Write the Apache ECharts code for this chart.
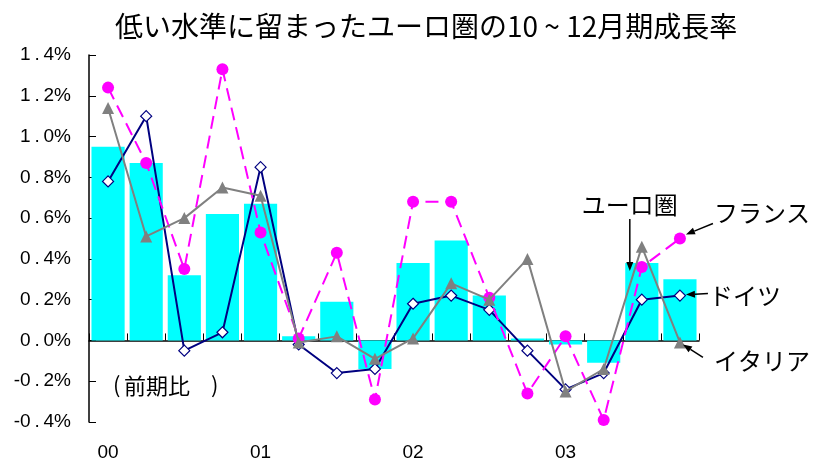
<!DOCTYPE html>
<html>
<head>
<meta charset="utf-8">
<script src="https://cdn.jsdelivr.net/npm/echarts@6/dist/echarts.min.js"></script>
<style>
  html, body { margin: 0; padding: 0; background: #fff; }
  #chart { width: 815px; height: 464px; }
</style>
</head>
<body>
<div id="chart"></div>
<script>
// Quarterly real GDP growth, quarter-on-quarter (%), 2000 Q1 – 2003 Q4
const quarters = [
  '00Q1', '00Q2', '00Q3', '00Q4',
  '01Q1', '01Q2', '01Q3', '01Q4',
  '02Q1', '02Q2', '02Q3', '02Q4',
  '03Q1', '03Q2', '03Q3', '03Q4'
];
const yearLabels = ['00', '01', '02', '03'];

const euroArea = [0.95, 0.87, 0.32, 0.62, 0.67, 0.02, 0.19, -0.14, 0.38, 0.49, 0.22, 0.01, -0.02, -0.11, 0.38, 0.30];
const germany  = [0.78, 1.10, -0.05, 0.04, 0.85, -0.02, -0.16, -0.14, 0.18, 0.22, 0.15, -0.05, -0.24, -0.16, 0.20, 0.22];
const france   = [1.24, 0.87, 0.35, 1.33, 0.53, 0.01, 0.43, -0.29, 0.68, 0.68, 0.21, -0.26, 0.02, -0.39, 0.36, 0.50];
const italy    = [1.14, 0.51, 0.60, 0.75, 0.71, -0.01, 0.02, -0.09, 0.01, 0.28, 0.20, 0.40, -0.25, -0.14, 0.46, -0.01];

const LATIN = '"Liberation Sans", Arial, sans-serif';
const JP = '"Noto Sans CJK JP", "Liberation Sans", sans-serif';

const chart = echarts.init(document.getElementById('chart'), null, { renderer: 'canvas' });

const option = {
  animation: false,
  backgroundColor: '#fff',
  title: {
    text: '低い水準に留まったユーロ圏の10 ~ 12月期成長率',
    left: 110,
    top: 7,
    textStyle: { fontFamily: JP, fontSize: 28, fontWeight: 'normal', color: '#000' }
  },
  grid: { left: 89, right: 116, top: 55, bottom: 42, containLabel: false },
  xAxis: [
    {
      type: 'category',
      data: quarters,
      boundaryGap: true,
      axisLine: { onZero: true, lineStyle: { color: '#000', width: 1.5 } },
      axisTick: { show: true, inside: true, length: 7, interval: 0, lineStyle: { color: '#000', width: 1 } },
      axisLabel: { show: false },
      splitLine: { show: false }
    },
    {
      type: 'category',
      data: quarters,
      position: 'bottom',
      axisLine: { show: false, onZero: false },
      axisTick: { show: false },
      axisLabel: {
        interval: 0,
        margin: 21,
        fontFamily: LATIN,
        fontSize: 19,
        color: '#000',
        formatter: (v, i) => (i % 4 === 0 ? yearLabels[i / 4] : '')
      },
      splitLine: { show: false }
    }
  ],
  yAxis: {
    type: 'value',
    min: -0.4,
    max: 1.4,
    interval: 0.2,
    axisLine: { show: true, lineStyle: { color: '#000', width: 1.5 } },
    axisTick: { show: true, inside: true, length: 7, lineStyle: { color: '#000', width: 1 } },
    axisLabel: {
      margin: 18,
      fontFamily: LATIN,
      fontSize: 19,
      color: '#000',
      formatter: v => v.toFixed(1).replace('.', '\u2009.\u2009') + '%'
    },
    splitLine: { show: false }
  },
  series: [
    {
      name: 'ユーロ圏',
      type: 'bar',
      data: euroArea,
      barCategoryGap: '13%',
      itemStyle: { color: '#00FFFF' },
      z: 1
    },
    {
      name: 'ドイツ',
      type: 'line',
      data: germany,
      symbol: 'diamond',
      symbolSize: 11,
      showAllSymbol: true,
      lineStyle: { color: '#000080', width: 2 },
      itemStyle: { color: '#fff', borderColor: '#000080', borderWidth: 1.2 },
      z: 3
    },
    {
      name: 'フランス',
      type: 'line',
      data: france,
      symbol: 'circle',
      symbolSize: 12,
      showAllSymbol: true,
      lineStyle: { color: '#FF00FF', width: 2, type: [13, 7] },
      itemStyle: { color: '#FF00FF' },
      z: 4
    },
    {
      name: 'イタリア',
      type: 'line',
      data: italy,
      symbol: 'triangle',
      symbolSize: 12,
      showAllSymbol: true,
      lineStyle: { color: '#808080', width: 2 },
      itemStyle: { color: '#808080' },
      z: 5
    }
  ]
};

chart.setOption(option);

// Callout arrows: a line plus a filled head ending at (x2, y2)
function arrow(x1, y1, x2, y2) {
  const dx = x2 - x1, dy = y2 - y1;
  const len = Math.sqrt(dx * dx + dy * dy);
  const ux = dx / len, uy = dy / len;
  const head = 9, half = 3.5;
  const bx = x2 - ux * head, by = y2 - uy * head;
  return [
    {
      type: 'line',
      shape: { x1: x1, y1: y1, x2: bx, y2: by },
      style: { stroke: '#000', lineWidth: 1.5 },
      z: 20
    },
    {
      type: 'polygon',
      shape: { points: [[x2, y2], [bx - uy * half, by + ux * half], [bx + uy * half, by - ux * half]] },
      style: { fill: '#000' },
      z: 20
    }
  ];
}

function text(str, x, y, size, align) {
  return {
    type: 'text',
    x: x,
    y: y,
    style: {
      text: str,
      fill: '#000',
      font: size + 'px ' + JP,
      align: align || 'center',
      verticalAlign: 'middle'
    },
    z: 20
  };
}

const last = quarters.length - 1;
const px = (i, v) => chart.convertToPixel({ xAxisIndex: 0, yAxisIndex: 0 }, [i, v]);

const pEuro = px(last - 1, euroArea[last - 1]);
const pFr = px(last, france[last]);
const pDe = px(last, germany[last]);
const pIt = px(last, italy[last]);

const graphics = [
  text('ユーロ圏', pEuro[0] - 12, pEuro[1] - 58, 24),
  ...arrow(pEuro[0] - 12, pEuro[1] - 44, pEuro[0] - 12, pEuro[1] + 8),
  text('フランス', pFr[0] + 82, pFr[1] - 26, 24),
  ...arrow(pFr[0] + 33, pFr[1] - 15, pFr[0] + 6, pFr[1] - 4),
  text('ドイツ', pDe[0] + 65, pDe[1], 24),
  ...arrow(pDe[0] + 28, pDe[1] - 2, pDe[0] + 6, pDe[1] - 1),
  text('イタリア', pIt[0] + 82, pIt[1] + 18, 24),
  ...arrow(pIt[0] + 23, pIt[1] + 15, pIt[0] + 3, pIt[1] + 2),
  // unit note: (前期比 )
  text('(', 113, 385, 22, 'left'),
  text('前期比', 124, 386, 22, 'left'),
  text(')', 211, 385, 22, 'left')
];

chart.setOption({ graphic: graphics });
</script>
</body>
</html>
